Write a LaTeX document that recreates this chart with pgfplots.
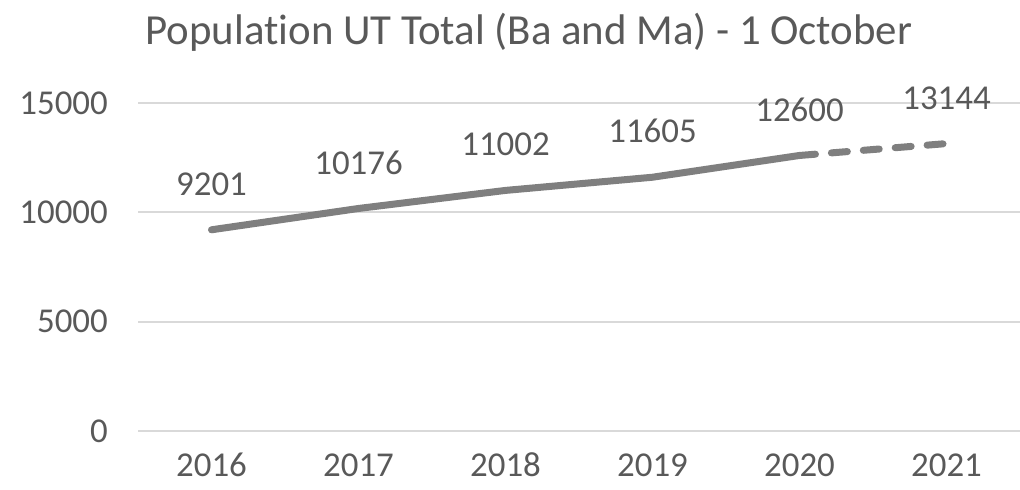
\documentclass[border=0pt]{standalone}
\usepackage{fontspec}
\setmainfont{Carlito}[Ligatures=NoCommon]
\usepackage{pgfplots}
\pgfplotsset{compat=1.18}
\definecolor{txt}{HTML}{595959}
\definecolor{gridc}{HTML}{D9D9D9}
\definecolor{ln}{HTML}{7F7F7F}
\begin{document}
\begin{tikzpicture}[x=1bp,y=1bp]
\useasboundingbox (0,0) rectangle (1020,490);
\node[text=txt, font=\fontsize{43}{50}\selectfont, anchor=base, inner sep=0pt] at (529,445) {Population UT Total (Ba and Ma) - 1 October};
\begin{axis}[
  at={(138bp,59bp)}, anchor=south west,
  scale only axis, width=882bp, height=328bp,
  xmin=-0.5, xmax=5.5, ymin=0, ymax=15000,
  clip=false,
  axis line style={draw=none},
  tick style={draw=none},
  ymajorgrids, grid style={gridc, line width=2bp},
  xtick={0,1,2,3,4,5},
  xticklabels={2016,2017,2018,2019,2020,2021},
  ytick={0,5000,10000,15000},
  scaled y ticks=false,
  /pgf/number format/assume math mode=true,
  /pgf/number format/1000 sep={},
  ticklabel style={font=\fontsize{35}{42}\selectfont, text=txt, inner sep=0pt},
  yticklabel style={anchor=east, xshift=-30bp},
  xticklabel style={anchor=base, yshift=-46bp},
]
\addplot[ln, line width=7bp, line cap=round, line join=round] coordinates {(0,9201) (1,10176) (2,11002) (3,11605) (4,12600)};
\addplot[ln, line width=7bp, line cap=round, dash pattern=on 16bp off 16bp] coordinates {(4,12600) (5,13144)};
\addplot[draw=none, mark=none, point meta=y,
  nodes near coords={\pgfmathprintnumber[fixed,precision=0,1000 sep={},assume math mode=true]{\pgfplotspointmeta}},
  every node near coord/.append style={font=\fontsize{35}{42}\selectfont, text=txt, inner sep=0pt, anchor=south, yshift=34bp}]
  coordinates {(0,9201) (1,10176) (2,11002) (3,11605) (4,12600) (5,13144)};
\end{axis}
\end{tikzpicture}
\end{document}
